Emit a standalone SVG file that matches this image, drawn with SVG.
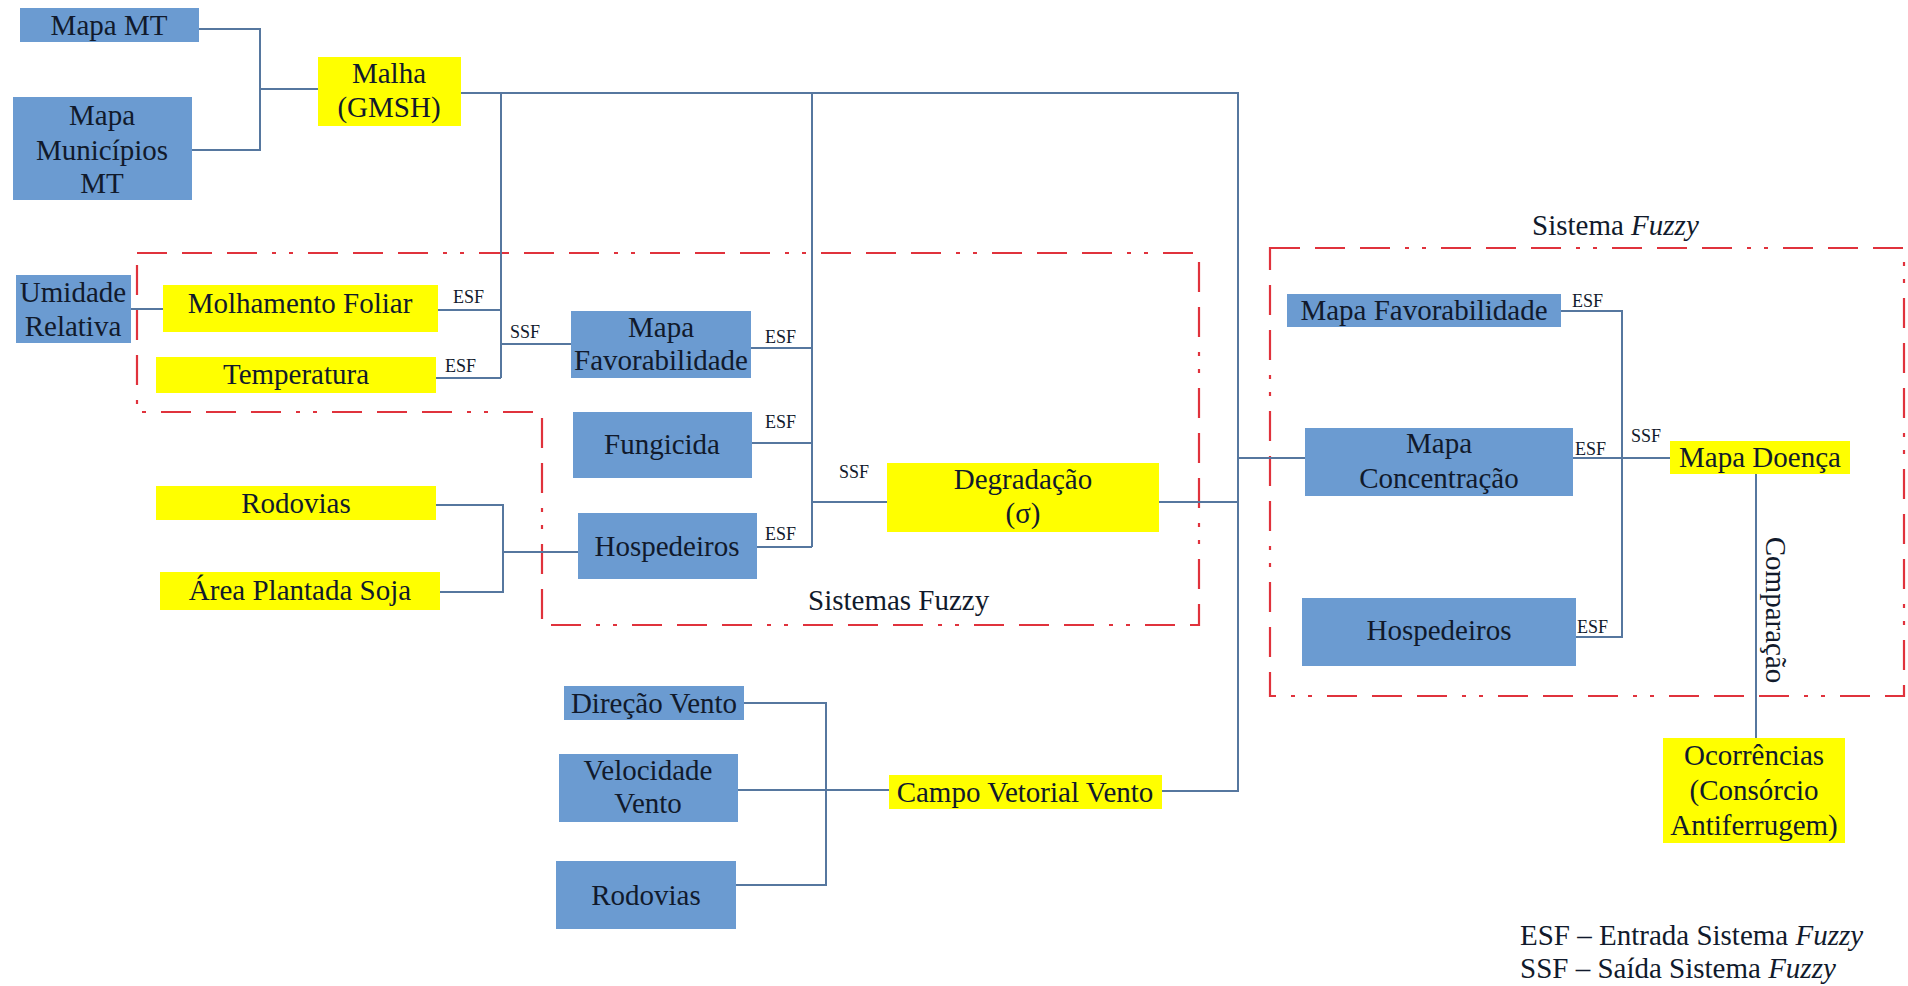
<svg xmlns="http://www.w3.org/2000/svg" width="1908" height="986" viewBox="0 0 1908 986" font-family="'Liberation Serif', 'DejaVu Serif', serif">
<style>
.b{fill:#6b9bd1}
.y{fill:#ffff00}
.t{font-family:'Liberation Serif','DejaVu Serif',serif;font-size:29px;fill:#111a2c;text-anchor:middle}
.l{font-family:'Liberation Serif','DejaVu Serif',serif;font-size:18px;fill:#111a2c}
.c{fill:none;stroke:#56779f;stroke-width:2}
.f{fill:none;stroke:#e0323c;stroke-width:2.2;stroke-dasharray:30 15 30 15 30 15 4 13 4 15}
.g{font-family:'Liberation Serif','DejaVu Serif',serif;font-size:29px;fill:#111a2c}
</style>
<rect width="1908" height="986" fill="#ffffff"/>
<g id="frames">
<path class="f" d="M137,253 H1199 V625 H542 V412 H137 Z"/>
<rect class="f" x="1270" y="248" width="634" height="448"/>
</g>
<g id="connectors">
<path class="c" d="M199,29 H260 V150 H192"/>
<path class="c" d="M260,89 H318"/>
<path class="c" d="M461,93 H1238 V791 H1162"/>
<path class="c" d="M501,93 V378"/>
<path class="c" d="M812,93 V547"/>
<path class="c" d="M131,309 H163"/>
<path class="c" d="M438,310 H501"/>
<path class="c" d="M436,378 H501"/>
<path class="c" d="M501,344 H571"/>
<path class="c" d="M436,505 H503 V592 H440"/>
<path class="c" d="M503,552 H578"/>
<path class="c" d="M751,348 H812"/>
<path class="c" d="M752,443 H812"/>
<path class="c" d="M757,547 H812"/>
<path class="c" d="M812,502 H887"/>
<path class="c" d="M1159,502 H1238"/>
<path class="c" d="M1238,458 H1305"/>
<path class="c" d="M1561,311 H1622 V637 H1576"/>
<path class="c" d="M1573,458 H1670"/>
<path class="c" d="M1756,474 V738"/>
<path class="c" d="M744,703 H826 V885 H736"/>
<path class="c" d="M738,790 H889"/>
</g>
<g id="labels">
<text class="l" x="453" y="303">ESF</text>
<text class="l" x="510" y="338">SSF</text>
<text class="l" x="445" y="372">ESF</text>
<text class="l" x="765" y="343">ESF</text>
<text class="l" x="765" y="428">ESF</text>
<text class="l" x="765" y="540">ESF</text>
<text class="l" x="839" y="478">SSF</text>
<text class="l" x="1572" y="307">ESF</text>
<text class="l" x="1575" y="455">ESF</text>
<text class="l" x="1631" y="442">SSF</text>
<text class="l" x="1577" y="633">ESF</text>
<text class="t" transform="translate(1766,610) rotate(90)">Comparação</text>
<text class="g" x="808" y="610">Sistemas Fuzzy</text>
<text class="g" x="1532" y="235">Sistema <tspan font-style="italic">Fuzzy</tspan></text>
</g>
<g id="n-mapa-mt"><rect class="b" x="20" y="8" width="179" height="34"/><text class="t" x="109" y="35">Mapa MT</text></g>
<g id="n-mapa-municipios"><rect class="b" x="13" y="97" width="179" height="103"/><text class="t" x="102" y="125">Mapa</text><text class="t" x="102" y="160">Municípios</text><text class="t" x="102" y="193">MT</text></g>
<g id="n-malha"><rect class="y" x="318" y="57" width="143" height="69"/><text class="t" x="389" y="83">Malha</text><text class="t" x="389" y="117">(GMSH)</text></g>
<g id="n-umidade"><rect class="b" x="16" y="275" width="115" height="68"/><text class="t" x="73" y="302">Umidade</text><text class="t" x="73" y="336">Relativa</text></g>
<g id="n-molhamento"><rect class="y" x="163" y="285" width="275" height="47"/><text class="t" x="300" y="313">Molhamento Foliar</text></g>
<g id="n-temperatura"><rect class="y" x="156" y="357" width="280" height="36"/><text class="t" x="296" y="384">Temperatura</text></g>
<g id="n-rodovias-y"><rect class="y" x="156" y="486" width="280" height="34"/><text class="t" x="296" y="513">Rodovias</text></g>
<g id="n-area-soja"><rect class="y" x="160" y="572" width="280" height="38"/><text class="t" x="300" y="600">Área Plantada Soja</text></g>
<g id="n-mapa-fav-1"><rect class="b" x="571" y="311" width="180" height="67"/><text class="t" x="661" y="337">Mapa</text><text class="t" x="661" y="370">Favorabilidade</text></g>
<g id="n-fungicida"><rect class="b" x="573" y="412" width="179" height="66"/><text class="t" x="662" y="454">Fungicida</text></g>
<g id="n-hospedeiros-1"><rect class="b" x="578" y="513" width="179" height="66"/><text class="t" x="667" y="556">Hospedeiros</text></g>
<g id="n-degradacao"><rect class="y" x="887" y="463" width="272" height="69"/><text class="t" x="1023" y="489">Degradação</text><text class="t" x="1023" y="523">(σ)</text></g>
<g id="n-direcao-vento"><rect class="b" x="564" y="686" width="180" height="34"/><text class="t" x="654" y="713">Direção Vento</text></g>
<g id="n-velocidade-vento"><rect class="b" x="559" y="754" width="179" height="68"/><text class="t" x="648" y="780">Velocidade</text><text class="t" x="648" y="813">Vento</text></g>
<g id="n-rodovias-b"><rect class="b" x="556" y="861" width="180" height="68"/><text class="t" x="646" y="905">Rodovias</text></g>
<g id="n-campo-vento"><rect class="y" x="889" y="775" width="273" height="34"/><text class="t" x="1025" y="802">Campo Vetorial Vento</text></g>
<g id="n-mapa-fav-2"><rect class="b" x="1287" y="294" width="274" height="33"/><text class="t" x="1424" y="320">Mapa Favorabilidade</text></g>
<g id="n-mapa-conc"><rect class="b" x="1305" y="428" width="268" height="68"/><text class="t" x="1439" y="453">Mapa</text><text class="t" x="1439" y="488">Concentração</text></g>
<g id="n-mapa-doenca"><rect class="y" x="1670" y="441" width="180" height="33"/><text class="t" x="1760" y="467">Mapa Doença</text></g>
<g id="n-hospedeiros-2"><rect class="b" x="1302" y="598" width="274" height="68"/><text class="t" x="1439" y="640">Hospedeiros</text></g>
<g id="n-ocorrencias"><rect class="y" x="1663" y="738" width="182" height="105"/><text class="t" x="1754" y="765">Ocorrências</text><text class="t" x="1754" y="800">(Consórcio</text><text class="t" x="1754" y="835">Antiferrugem)</text></g>
<g id="legend">
<text class="g" x="1520" y="945" font-size="30">ESF – Entrada Sistema <tspan font-style="italic">Fuzzy</tspan></text>
<text class="g" x="1520" y="978" font-size="30">SSF – Saída Sistema <tspan font-style="italic">Fuzzy</tspan></text>
</g>
</svg>
